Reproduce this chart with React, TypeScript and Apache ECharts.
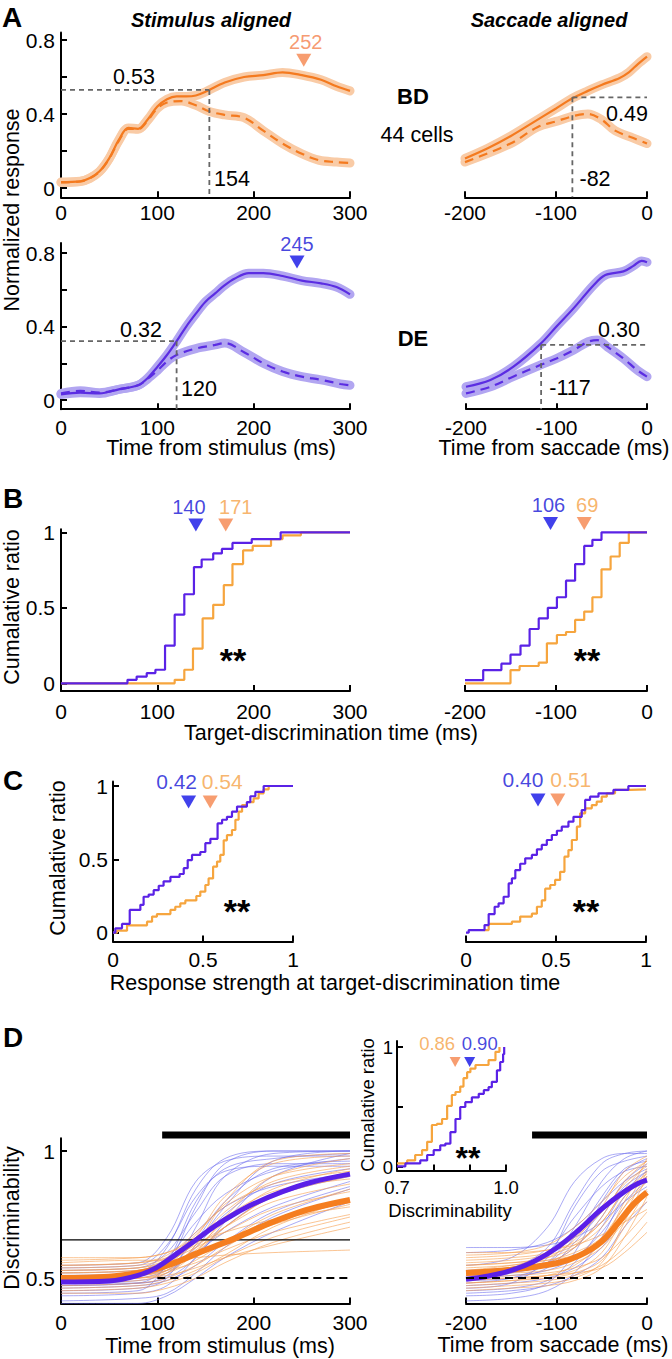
import React, { useEffect, useRef } from 'react';
import * as echarts from 'echarts';

const FONT = '"Liberation Sans", Arial, Helvetica, sans-serif';

const C_OR = '#F47A1F';
const C_OR_BAND = '#F9CBA6';
const C_BL = '#5B2DE2';
const C_BL_BAND = '#B2A6F1';
const C_MK_OR = '#F5844C';
const C_MK_BL = '#1212E6';
const C_TX_OR = '#F5A247';
const C_STEP_OR = '#F6A53E';
const C_STEP_BL = '#5A22E6';
const C_GREY = '#666666';
const C_THIN_BL = 'rgba(100,100,236,0.55)';
const C_THIN_OR = 'rgba(247,160,80,0.62)';

// ---------------- Panel A : population responses (time, normalized response)
const aBDStimSolid = [[0,0.032],[20,0.036],[30,0.054],[40,0.09],[50,0.16],[60,0.26],[70,0.325],[80,0.32],[90,0.37],[100,0.44],[110,0.48],[120,0.495],[130,0.495],[140,0.5],[150,0.52],[170,0.57],[190,0.6],[210,0.61],[230,0.625],[250,0.61],[270,0.585],[286,0.55],[300,0.525]];
const aBDStimDash = [[0,0.03],[20,0.035],[30,0.052],[40,0.088],[50,0.158],[60,0.255],[70,0.32],[80,0.318],[90,0.365],[100,0.43],[110,0.462],[125,0.47],[140,0.447],[154,0.414],[170,0.395],[190,0.38],[210,0.31],[230,0.24],[250,0.185],[268,0.15],[286,0.14],[300,0.135]];
const aBDSaccSolid = [[-200,0.16],[-175,0.215],[-150,0.28],[-125,0.355],[-100,0.43],[-82,0.485],[-65,0.525],[-50,0.557],[-30,0.595],[-20,0.625],[-10,0.67],[0,0.71]];
const aBDSaccDash = [[-200,0.14],[-150,0.24],[-120,0.33],[-100,0.36],[-80,0.39],[-65,0.4],[-50,0.37],[-35,0.31],[-15,0.27],[0,0.24]];
const aDEStimSolid = [[0,0.03],[20,0.04],[40,0.036],[60,0.058],[80,0.08],[90,0.12],[100,0.18],[110,0.245],[120,0.32],[130,0.4],[140,0.47],[150,0.535],[160,0.58],[170,0.625],[180,0.66],[195,0.69],[210,0.69],[230,0.675],[250,0.65],[270,0.635],[286,0.615],[300,0.575]];
const aDEStimDash = [[0,0.036],[20,0.05],[40,0.04],[60,0.058],[80,0.08],[90,0.115],[100,0.16],[110,0.21],[120,0.245],[140,0.28],[160,0.3],[170,0.31],[190,0.26],[210,0.2],[230,0.155],[250,0.127],[270,0.11],[290,0.087],[300,0.08]];
const aDESaccSolid = [[-200,0.072],[-173,0.109],[-148,0.18],[-118,0.304],[-100,0.4],[-81,0.5],[-59,0.625],[-46,0.68],[-26,0.7],[-15,0.73],[-6,0.757],[0,0.75]];
const aDESaccDash = [[-200,0.036],[-173,0.072],[-148,0.127],[-118,0.19],[-100,0.226],[-81,0.272],[-65,0.317],[-55,0.326],[-44,0.29],[-26,0.226],[-11,0.163],[0,0.127]];
const aBDStimCross = [154, 0.53];
const aBDSaccCross = [-82, 0.49];
const aDEStimCross = [120, 0.32];
const aDESaccCross = [-117, 0.3];
const aBDPeak = 252;
const aDEPeak = 245;

// ---------------- Panel B : target-discrimination time CDFs
const bStimBlue = [[0,0],[69,0.023],[78.5,0.045],[89,0.068],[98,0.09],[108,0.25],[118,0.4545],[128,0.59],[138,0.77],[146,0.82],[158,0.86],[167,0.89],[178,0.93],[198,0.955],[228,1],[300,1]];
const bStimOrange = [[0,0],[118,0.023],[128,0.09],[137,0.23],[147,0.43],[158,0.52],[169,0.65],[178,0.79],[189,0.88],[199,0.91],[218,0.955],[230,0.98],[249,1],[300,1]];
const bSaccBlue = [[-200,0.022],[-180,0.088],[-160,0.13],[-150,0.19],[-139,0.25],[-129,0.36],[-119,0.43],[-109,0.5],[-99,0.57],[-89,0.68],[-79,0.79],[-69,0.91],[-60,0.95],[-50,1],[0,1]];
const bSaccOrange = [[-200,0],[-150,0.088],[-140,0.115],[-119,0.137],[-110,0.265],[-99,0.32],[-89,0.34],[-79,0.42],[-69,0.475],[-60,0.57],[-50,0.755],[-40,0.84],[-30,0.93],[-20,1],[0,1]];
const bStimMedian = { blue: 140, orange: 171 };
const bSaccMedian = { blue: -106, orange: -69 };

// ---------------- Panel C : response strength CDFs
const cStimBlue = [[0,0],[0.013,0.03],[0.05,0.06],[0.093,0.155],[0.152,0.19],[0.17,0.245],[0.198,0.26],[0.226,0.29],[0.254,0.32],[0.281,0.35],[0.319,0.38],[0.37,0.4],[0.393,0.44],[0.415,0.495],[0.439,0.53],[0.485,0.55],[0.513,0.61],[0.541,0.64],[0.581,0.745],[0.606,0.77],[0.633,0.79],[0.661,0.825],[0.689,0.86],[0.744,0.89],[0.763,0.93],[0.791,0.96],[0.837,1],[1,1]];
const cStimOrange = [[0,0],[0.022,0.014],[0.078,0.05],[0.189,0.075],[0.217,0.11],[0.244,0.127],[0.319,0.155],[0.346,0.177],[0.374,0.2],[0.402,0.22],[0.463,0.25],[0.485,0.28],[0.513,0.325],[0.531,0.37],[0.556,0.45],[0.578,0.485],[0.596,0.53],[0.615,0.63],[0.633,0.665],[0.661,0.7],[0.68,0.77],[0.698,0.825],[0.717,0.87],[0.744,0.89],[0.781,0.915],[0.809,0.95],[0.837,0.977],[0.865,1],[0.95,1]];
const cSaccBlue = [[0,0],[0.015,0.018],[0.103,0.052],[0.126,0.127],[0.159,0.177],[0.181,0.2],[0.209,0.245],[0.237,0.336],[0.255,0.37],[0.274,0.427],[0.301,0.47],[0.329,0.507],[0.366,0.53],[0.394,0.568],[0.421,0.598],[0.449,0.632],[0.477,0.666],[0.505,0.695],[0.532,0.723],[0.569,0.757],[0.597,0.79],[0.643,0.836],[0.662,0.905],[0.689,0.927],[0.736,0.95],[0.819,0.973],[0.902,1],[1,1]];
const cSaccOrange = [[0.1,0.018],[0.126,0.06],[0.255,0.075],[0.301,0.11],[0.366,0.13],[0.394,0.177],[0.421,0.22],[0.44,0.3],[0.468,0.325],[0.495,0.36],[0.523,0.415],[0.547,0.518],[0.569,0.563],[0.588,0.632],[0.616,0.723],[0.634,0.814],[0.662,0.848],[0.699,0.87],[0.726,0.893],[0.754,0.927],[0.782,0.95],[0.828,0.973],[0.911,0.977],[1,0.977]];
const cStimMedian = { blue: 0.42, orange: 0.54 };
const cSaccMedian = { blue: 0.4, orange: 0.51 };

// ---------------- Panel D : discriminability
const dStimTimes = [0, 80, 110, 140, 170, 220, 300];
const dSaccTimes = [-200, -150, -110, -80, -50, -25, 0];
const dStimBlueMean = [[0,0.484],[50,0.488],[80,0.51],[100,0.543],[120,0.595],[140,0.65],[160,0.705],[180,0.752],[200,0.792],[230,0.84],[260,0.877],[300,0.909]];
const dStimOrangeMean = [[0,0.5],[50,0.505],[80,0.52],[100,0.537],[120,0.563],[140,0.595],[160,0.625],[180,0.655],[200,0.689],[230,0.735],[260,0.773],[300,0.807]];
const dSaccBlueMean = [[-200,0.495],[-175,0.508],[-150,0.53],[-125,0.565],[-100,0.618],[-75,0.69],[-50,0.772],[-25,0.84],[-10,0.872],[0,0.885]];
const dSaccOrangeMean = [[-200,0.52],[-150,0.533],[-100,0.558],[-75,0.588],[-50,0.644],[-30,0.725],[-15,0.79],[0,0.837]];
const dStimBlueCells = [
  [0.47,0.48,0.55,0.78,0.95,1.0,1.0],[0.5,0.52,0.62,0.85,0.97,1.0,1.0],[0.45,0.46,0.5,0.7,0.9,0.99,1.0],
  [0.52,0.53,0.58,0.72,0.83,0.92,0.97],[0.48,0.49,0.52,0.62,0.75,0.87,0.93],[0.43,0.44,0.47,0.58,0.7,0.82,0.9],
  [0.55,0.56,0.66,0.88,0.96,0.98,0.98],[0.5,0.51,0.54,0.65,0.8,0.93,0.96],[0.46,0.47,0.49,0.55,0.64,0.76,0.86],
  [0.41,0.42,0.44,0.52,0.62,0.74,0.85],[0.53,0.54,0.6,0.76,0.9,0.95,0.95],[0.49,0.5,0.53,0.6,0.68,0.78,0.88],
  [0.44,0.45,0.56,0.8,0.93,0.97,0.99],[0.51,0.52,0.57,0.68,0.78,0.86,0.91],[0.47,0.48,0.5,0.58,0.72,0.9,0.99],
  [0.4,0.4,0.43,0.5,0.58,0.68,0.8],[0.54,0.55,0.63,0.82,0.92,0.94,0.94],[0.48,0.48,0.51,0.63,0.78,0.96,1.0],
];
const dStimOrangeCells = [
  [0.5,0.51,0.53,0.6,0.7,0.82,0.9],[0.55,0.56,0.58,0.63,0.7,0.8,0.87],[0.47,0.48,0.5,0.55,0.62,0.72,0.8],
  [0.52,0.53,0.56,0.64,0.76,0.88,0.94],[0.58,0.58,0.6,0.64,0.68,0.73,0.78],[0.45,0.46,0.48,0.52,0.58,0.66,0.74],
  [0.51,0.52,0.55,0.66,0.82,0.95,0.98],[0.49,0.5,0.51,0.54,0.58,0.63,0.7],[0.53,0.54,0.57,0.62,0.68,0.77,0.84],
  [0.56,0.57,0.57,0.58,0.59,0.6,0.61],[0.48,0.49,0.52,0.6,0.74,0.9,0.97],[0.5,0.5,0.52,0.57,0.64,0.75,0.85],
  [0.54,0.55,0.58,0.67,0.79,0.9,0.95],[0.46,0.47,0.49,0.53,0.59,0.7,0.81],[0.52,0.53,0.55,0.61,0.7,0.82,0.92],
  [0.57,0.58,0.6,0.66,0.74,0.84,0.89],[0.49,0.5,0.53,0.63,0.8,0.96,0.99],[0.51,0.51,0.53,0.56,0.61,0.68,0.75],
  [0.44,0.44,0.46,0.5,0.56,0.64,0.72],[0.53,0.54,0.56,0.59,0.64,0.71,0.79],[0.5,0.51,0.54,0.62,0.72,0.85,0.93],
  [0.55,0.56,0.59,0.68,0.78,0.87,0.92],
];
const dSaccBlueCells = [
  [0.48,0.5,0.56,0.7,0.88,0.97,1.0],[0.52,0.54,0.62,0.8,0.95,0.99,1.0],[0.45,0.46,0.49,0.56,0.7,0.84,0.92],
  [0.6,0.61,0.64,0.7,0.8,0.88,0.93],[0.5,0.51,0.53,0.58,0.68,0.8,0.88],[0.43,0.44,0.48,0.6,0.8,0.92,0.97],
  [0.55,0.58,0.7,0.88,0.97,0.99,0.99],[0.47,0.48,0.5,0.54,0.62,0.74,0.84],[0.51,0.52,0.56,0.66,0.82,0.93,0.96],
  [0.41,0.42,0.45,0.52,0.66,0.82,0.9],[0.62,0.62,0.63,0.66,0.72,0.8,0.86],[0.49,0.5,0.54,0.64,0.76,0.86,0.92],
  [0.46,0.48,0.58,0.78,0.92,0.96,0.98],[0.53,0.54,0.56,0.62,0.74,0.88,0.95],[0.44,0.45,0.47,0.51,0.58,0.7,0.8],
  [0.5,0.52,0.6,0.74,0.86,0.92,0.94],
];
const dSaccOrangeCells = [
  [0.52,0.53,0.55,0.58,0.66,0.78,0.88],[0.55,0.56,0.58,0.62,0.7,0.82,0.9],[0.48,0.49,0.5,0.52,0.57,0.7,0.85],
  [0.58,0.59,0.61,0.64,0.72,0.85,0.95],[0.5,0.51,0.52,0.54,0.58,0.66,0.76],[0.45,0.46,0.47,0.49,0.54,0.66,0.82],
  [0.53,0.55,0.58,0.65,0.78,0.92,0.98],[0.6,0.6,0.61,0.63,0.67,0.72,0.77],[0.49,0.5,0.51,0.53,0.6,0.75,0.92],
  [0.56,0.57,0.59,0.63,0.72,0.84,0.91],[0.51,0.52,0.53,0.56,0.62,0.72,0.8],[0.47,0.48,0.49,0.51,0.55,0.62,0.72],
  [0.54,0.55,0.57,0.6,0.66,0.78,0.93],[0.57,0.58,0.6,0.66,0.76,0.87,0.94],[0.5,0.5,0.51,0.52,0.54,0.6,0.68],
  [0.52,0.53,0.56,0.62,0.74,0.88,0.96],[0.46,0.47,0.48,0.5,0.56,0.72,0.9],[0.55,0.56,0.57,0.59,0.64,0.74,0.84],
  [0.59,0.6,0.63,0.7,0.8,0.9,0.96],[0.48,0.49,0.51,0.55,0.64,0.8,0.97],
];
const dStimSigBar = [105, 300];
const dSaccSigBar = [-127, 0];
const dThreshold = 0.65;
const dChance = 0.5;
const dStimChanceRange = [100, 300];
const dSaccChanceRange = [-200, 0];
// inset: peak discriminability CDF
const insetOrange = [[0.7,0.03],[0.728,0.055],[0.75,0.1],[0.769,0.14],[0.783,0.21],[0.796,0.35],[0.81,0.36],[0.824,0.4],[0.838,0.51],[0.851,0.6],[0.861,0.625],[0.874,0.67],[0.883,0.74],[0.893,0.79],[0.902,0.82],[0.916,0.85],[0.952,0.89],[0.971,0.96],[0.982,1]];
const insetBlue = [[0.7,0.005],[0.723,0.03],[0.764,0.055],[0.783,0.1],[0.801,0.14],[0.819,0.18],[0.833,0.195],[0.847,0.29],[0.861,0.4],[0.874,0.5],[0.888,0.54],[0.906,0.58],[0.925,0.61],[0.939,0.64],[0.952,0.665],[0.961,0.71],[0.975,0.805],[0.984,0.875],[0.992,0.94],[0.995,1]];
const insetMedian = { orange: 0.86, blue: 0.9 };

// ---------------- tick values
const aYTicks = [0, 0.2, 0.4, 0.6, 0.8];
const aYLabels = [0, 0.4, 0.8];
const stimTicks = [0, 100, 200, 300];
const saccTicks = [-200, -100, 0];
const cdfTicks = [0, 0.5, 1];
const dYTicks = [0.5, 1];
const insetXTicks = [0.7, 0.8, 0.9, 1.0];
const insetXLabels = [0.7, 1.0];
const insetYLabels = [0, 1];

const TRI = 'path://M0,0L12,0L6,10Z';
const TICK_FS = 21;
const TXT_FS = 21.5;

function mkX(gi: number, min: number, max: number, ticks: number[], labels: number[], margin: number, size = TICK_FS, fmt?: any) {
  return {
    type: 'value', gridIndex: gi, min, max,
    axisLine: { show: true, onZero: false, lineStyle: { color: '#000', width: 2 } },
    axisTick: { show: true, inside: true, length: 6, customValues: ticks, lineStyle: { color: '#000', width: 2 } },
    axisLabel: { show: true, customValues: labels, margin, color: '#000', fontSize: size, fontFamily: FONT, ...(fmt ? { formatter: fmt } : {}) },
    splitLine: { show: false },
  };
}
function mkY(gi: number, min: number, max: number, ticks: number[], labels: number[], margin: number, size = TICK_FS) {
  return {
    type: 'value', gridIndex: gi, min, max, position: 'left',
    axisLine: { show: true, onZero: false, lineStyle: { color: '#000', width: 2 } },
    axisTick: { show: true, inside: true, length: 6, customValues: ticks, lineStyle: { color: '#000', width: 2 } },
    axisLabel: { show: true, customValues: labels, margin, color: '#000', fontSize: size, fontFamily: FONT },
    splitLine: { show: false },
  };
}
function hideY(gi: number, min: number, max: number) {
  return { type: 'value', gridIndex: gi, min, max, show: false, splitLine: { show: false } };
}
function ln(gi: number, data: any[], color: string, width: number, o: any = {}) {
  return {
    type: 'line', xAxisIndex: gi, yAxisIndex: gi, data, symbol: 'none', showSymbol: false, silent: true,
    lineStyle: { color, width, type: o.dash || 'solid', cap: o.cap || 'butt' },
    smooth: o.smooth || false,
    step: o.step || false, clip: o.clip === undefined ? true : o.clip, z: o.z || 2,
  };
}
function marker(gi: number, x: number, y: number, color: string, text: string, textColor: string, dx: number, o: any = {}) {
  return {
    type: 'scatter', xAxisIndex: gi, yAxisIndex: gi, data: [[x, y]], symbol: TRI,
    symbolSize: o.size || [15, 13], itemStyle: { color }, silent: true, clip: false, z: 5,
    label: { show: true, formatter: text, position: 'top', distance: o.dist || 2, offset: [dx, 0], color: textColor, fontSize: o.font || 20, fontFamily: FONT },
  };
}
function pairs(times: number[], vals: number[]) {
  return times.map((t, i) => [t, vals[i]]);
}
function txt(x: number, y: number, text: string, o: any = {}) {
  return {
    type: 'text', x, y, rotation: o.rot || 0, silent: true, z: 100,
    style: { text, fontSize: o.size || TXT_FS, fontFamily: FONT, fontWeight: o.bold ? 'bold' : 'normal', fontStyle: o.italic ? 'italic' : 'normal', fill: o.color || '#000', align: o.align || 'center', verticalAlign: 'middle' },
  };
}

function buildOption() {
  const grids = [
    { left: 61, top: 32.6, width: 289, height: 164.65 },
    { left: 465, top: 32.6, width: 182, height: 164.65 },
    { left: 61, top: 242.9, width: 289, height: 166.3 },
    { left: 466, top: 242.9, width: 181, height: 166.3 },
    { left: 61, top: 529.3, width: 289, height: 161.6 },
    { left: 465, top: 529.3, width: 182, height: 161.6 },
    { left: 113, top: 781.6, width: 180, height: 159.9 },
    { left: 466, top: 781.6, width: 180, height: 159.9 },
    { left: 61, top: 1138.3, width: 289, height: 165.1 },
    { left: 466, top: 1138.3, width: 181, height: 165.1 },
    { left: 397, top: 1041, width: 109, height: 129.6 },
  ].map((g) => ({ ...g, containLabel: false, outerBoundsMode: 'none', show: false }));

  const aMin = -0.05, aMax1 = 0.84, aMax2 = 0.855;
  const bMin = -0.05, bMax = 1.02;
  const cMin = -0.06, cMax = 1.03;
  const dMin = 0.4, dMax = 1.05;
  const iMin = -0.03, iMax = 1.05;

  const xAxis = [
    mkX(0, 0, 300, stimTicks, stimTicks, 5),
    mkX(1, -200, 0, saccTicks, saccTicks, 5),
    mkX(2, 0, 300, stimTicks, stimTicks, 7.5),
    mkX(3, -200, 0, saccTicks, saccTicks, 7.5),
    mkX(4, 0, 300, stimTicks, stimTicks, 10.5),
    mkX(5, -200, 0, saccTicks, saccTicks, 10.5),
    mkX(6, 0, 1, cdfTicks, cdfTicks, 7.5),
    mkX(7, 0, 1, cdfTicks, cdfTicks, 7.5),
    mkX(8, 0, 300, stimTicks, stimTicks, 8.5),
    mkX(9, -200, 0, saccTicks, saccTicks, 8.5),
    mkX(10, 0.7, 1.0, insetXTicks, insetXLabels, 7.5, 18.5, (v: number) => v.toFixed(1)),
  ];
  const yAxis = [
    mkY(0, aMin, aMax1, aYTicks, aYLabels, 6),
    hideY(1, aMin, aMax1),
    mkY(2, aMin, aMax2, aYTicks, aYLabels, 6),
    hideY(3, aMin, aMax2),
    mkY(4, bMin, bMax, cdfTicks, cdfTicks, 6),
    hideY(5, bMin, bMax),
    mkY(6, cMin, cMax, cdfTicks, cdfTicks, 5),
    hideY(7, cMin, cMax),
    mkY(8, dMin, dMax, dYTicks, dYTicks, 6),
    hideY(9, dMin, dMax),
    mkY(10, iMin, iMax, cdfTicks, insetYLabels, 4, 18.5),
  ];

  const series: any[] = [];
  const dashRef = { dash: [5, 4] };

  // ---- Panel A
  const aPanels = [
    { gi: 0, solid: aBDStimSolid, dash: aBDStimDash, band: C_OR_BAND, col: C_OR, cross: aBDStimCross, stim: true, ymin: aMin },
    { gi: 1, solid: aBDSaccSolid, dash: aBDSaccDash, band: C_OR_BAND, col: C_OR, cross: aBDSaccCross, stim: false, ymin: aMin },
    { gi: 2, solid: aDEStimSolid, dash: aDEStimDash, band: C_BL_BAND, col: C_BL, cross: aDEStimCross, stim: true, ymin: aMin },
    { gi: 3, solid: aDESaccSolid, dash: aDESaccDash, band: C_BL_BAND, col: C_BL, cross: aDESaccCross, stim: false, ymin: aMin },
  ];
  aPanels.forEach((p) => {
    series.push(ln(p.gi, p.solid, p.band, 9, { smooth: 0.35, cap: 'round' }));
    series.push(ln(p.gi, p.dash, p.band, 9, { smooth: 0.35, cap: 'round' }));
    series.push(ln(p.gi, p.solid, p.col, 2.2, { smooth: 0.35 }));
    series.push(ln(p.gi, p.dash, p.col, 2.2, { smooth: 0.35, dash: [9, 6] }));
    const [cx, cy] = p.cross;
    const hx = p.stim ? [0, cx] : [cx, 0];
    series.push(ln(p.gi, [[hx[0], cy], [hx[1], cy]], C_GREY, 1.8, { ...dashRef, z: 4 }));
    series.push(ln(p.gi, [[cx, cy], [cx, p.ymin]], C_GREY, 1.8, { ...dashRef, z: 4 }));
  });
  series.push(marker(0, aBDPeak, 0.69, C_MK_OR, String(aBDPeak), '#F4804C', 2));
  series.push(marker(2, aDEPeak, 0.751, C_MK_BL, String(aDEPeak), '#1616D6', 0));

  // ---- Panel B
  series.push(ln(4, bStimOrange, C_STEP_OR, 2.2, { step: 'end' }));
  series.push(ln(4, bStimBlue, C_STEP_BL, 2.2, { step: 'end' }));
  series.push(ln(5, bSaccOrange, C_STEP_OR, 2.2, { step: 'end' }));
  series.push(ln(5, bSaccBlue, C_STEP_BL, 2.2, { step: 'end' }));
  series.push(marker(4, bStimMedian.blue, 1.048, C_MK_BL, String(Math.abs(bStimMedian.blue)), '#1616D6', -7));
  series.push(marker(4, bStimMedian.orange, 1.048, C_MK_OR, String(Math.abs(bStimMedian.orange)), C_TX_OR, 10));
  series.push(marker(5, bSaccMedian.blue, 1.058, C_MK_BL, String(Math.abs(bSaccMedian.blue)), '#1616D6', -2));
  series.push(marker(5, bSaccMedian.orange, 1.058, C_MK_OR, String(Math.abs(bSaccMedian.orange)), C_TX_OR, 3));

  // ---- Panel C
  series.push(ln(6, cStimOrange, C_STEP_OR, 2.2, { step: 'end' }));
  series.push(ln(6, cStimBlue, C_STEP_BL, 2.2, { step: 'end' }));
  series.push(ln(7, cSaccOrange, C_STEP_OR, 2.2, { step: 'end' }));
  series.push(ln(7, cSaccBlue, C_STEP_BL, 2.2, { step: 'end' }));
  series.push(marker(6, cStimMedian.blue, 0.891, C_MK_BL, cStimMedian.blue.toFixed(2), '#1616D6', -12, { font: 21, dist: 3 }));
  series.push(marker(6, cStimMedian.orange, 0.891, C_MK_OR, cStimMedian.orange.toFixed(2), C_TX_OR, 12, { font: 21, dist: 3 }));
  series.push(marker(7, cSaccMedian.blue, 0.905, C_MK_BL, cSaccMedian.blue.toFixed(2), '#1616D6', -15, { font: 21, dist: 3 }));
  series.push(marker(7, cSaccMedian.orange, 0.905, C_MK_OR, cSaccMedian.orange.toFixed(2), C_TX_OR, 13, { font: 21, dist: 3 }));

  // ---- Panel D
  dStimBlueCells.forEach((v) => series.push(ln(8, pairs(dStimTimes, v), C_THIN_BL, 1, { smooth: 0.35 })));
  dStimOrangeCells.forEach((v) => series.push(ln(8, pairs(dStimTimes, v), C_THIN_OR, 1, { smooth: 0.35 })));
  dSaccBlueCells.forEach((v) => series.push(ln(9, pairs(dSaccTimes, v), C_THIN_BL, 1, { smooth: 0.35 })));
  dSaccOrangeCells.forEach((v) => series.push(ln(9, pairs(dSaccTimes, v), C_THIN_OR, 1, { smooth: 0.35 })));
  series.push(ln(8, [[0, dThreshold], [300, dThreshold]], '#000', 1.2, { z: 3 }));
  series.push(ln(8, dStimOrangeMean, '#F57E1F', 6, { smooth: 0.4, z: 4 }));
  series.push(ln(8, dStimBlueMean, '#5A1FE8', 5, { smooth: 0.4, z: 4 }));
  series.push(ln(9, dSaccOrangeMean, '#F57E1F', 6, { smooth: 0.4, z: 4 }));
  series.push(ln(9, dSaccBlueMean, '#5A1FE8', 5, { smooth: 0.4, z: 4 }));
  series.push(ln(8, [[dStimChanceRange[0], dChance], [dStimChanceRange[1], dChance]], '#000', 2, { dash: [8, 5], z: 5 }));
  series.push(ln(9, [[dSaccChanceRange[0], dChance], [dSaccChanceRange[1], dChance]], '#000', 2, { dash: [8, 5], z: 5 }));
  series.push(ln(8, [[dStimSigBar[0], 1.063], [dStimSigBar[1], 1.063]], '#000', 7, { clip: false, z: 5 }));
  series.push(ln(9, [[dSaccSigBar[0], 1.063], [dSaccSigBar[1], 1.063]], '#000', 7, { clip: false, z: 5 }));
  // inset
  series.push(ln(10, insetOrange, C_STEP_OR, 2.2, { step: 'end' }));
  series.push(ln(10, insetBlue, C_STEP_BL, 2.2, { step: 'end' }));
  series.push(marker(10, insetMedian.orange, 0.875, C_MK_OR, insetMedian.orange.toFixed(2), C_TX_OR, -18, { size: [11, 10], font: 18.5, dist: 4 }));
  series.push(marker(10, insetMedian.blue, 0.875, C_MK_BL, insetMedian.blue.toFixed(2), '#1616D6', 10, { size: [11, 10], font: 18.5, dist: 4 }));

  const V = Math.PI / 2;
  const graphic = [
    txt(2, 17, 'A', { size: 28, bold: true, align: 'left' }),
    txt(3, 498, 'B', { size: 28, bold: true, align: 'left' }),
    txt(3, 780, 'C', { size: 28, bold: true, align: 'left' }),
    txt(3, 1037, 'D', { size: 28, bold: true, align: 'left' }),
    txt(211, 20, 'Stimulus aligned', { size: 20, bold: true, italic: true }),
    txt(549, 20, 'Saccade aligned', { size: 20, bold: true, italic: true }),
    txt(12, 210, 'Normalized response', { rot: V }),
    txt(413, 96, 'BD', { size: 22, bold: true }),
    txt(417, 135, '44 cells'),
    txt(413, 338, 'DE', { size: 22, bold: true }),
    txt(134, 77, '0.53'),
    txt(232, 179, '154'),
    txt(627, 114, '0.49'),
    txt(595, 179, '-82'),
    txt(141, 330, '0.32'),
    txt(199, 389, '120'),
    txt(619, 330, '0.30'),
    txt(570, 388, '-117'),
    txt(221, 448, 'Time from stimulus (ms)'),
    txt(554, 448, 'Time from saccade (ms)'),
    txt(12, 607, 'Cumalative ratio', { rot: V }),
    txt(331, 733, 'Target-discrimination time (ms)'),
    txt(233, 660, '**', { size: 34, bold: true }),
    txt(587, 660, '**', { size: 34, bold: true }),
    txt(58, 858, 'Cumalative ratio', { rot: V }),
    txt(335, 983, 'Response strength at target-discrimination time'),
    txt(237, 911, '**', { size: 34, bold: true }),
    txt(586, 911, '**', { size: 34, bold: true }),
    txt(12, 1218, 'Discriminability', { rot: V }),
    txt(220, 1346, 'Time from stimulus (ms)'),
    txt(553, 1345, 'Time from saccade (ms)'),
    txt(367, 1105, 'Cumalative ratio', { rot: V, size: 18.5 }),
    txt(450, 1210, 'Discriminability', { size: 18.5 }),
    txt(468, 1158, '**', { size: 32, bold: true }),
  ];

  return {
    animation: false,
    backgroundColor: '#ffffff',
    grid: grids,
    xAxis,
    yAxis,
    series,
    graphic,
  };
}

export default function App() {
  const ref = useRef<HTMLDivElement>(null);
  useEffect(() => {
    if (!ref.current) return;
    const chart = echarts.init(ref.current, undefined, { renderer: 'svg', width: 672, height: 1359 });
    chart.setOption(buildOption() as any);
    return () => chart.dispose();
  }, []);
  return <div ref={ref} style={{ position: 'absolute', left: 0, top: 0, width: 672, height: 1359, background: '#fff' }} />;
}
